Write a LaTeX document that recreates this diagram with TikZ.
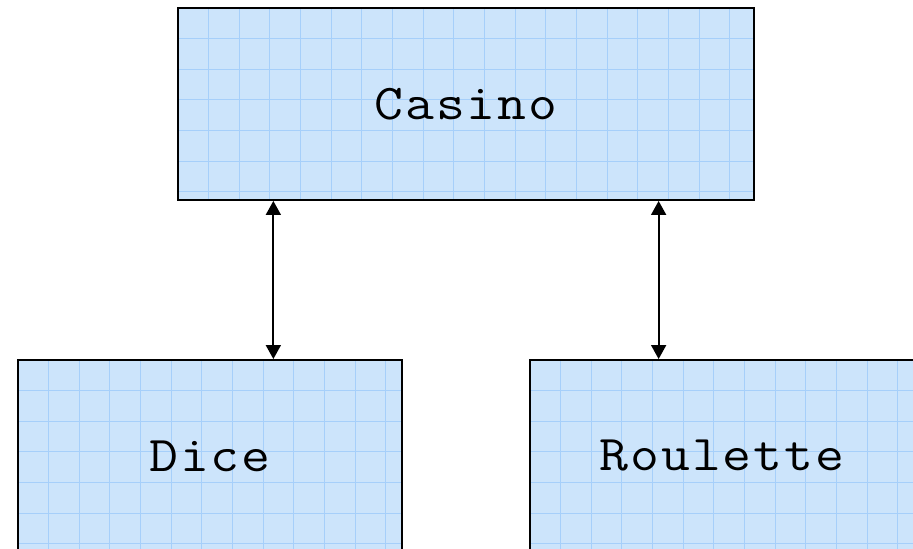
\documentclass[tikz,border=0pt]{standalone}
\usepackage{fontspec}
\usetikzlibrary{arrows.meta,calc}
\definecolor{boxfill}{RGB}{204,228,251}
\definecolor{boxgrid}{RGB}{166,207,250}
\newfontfamily\boxfont[FakeStretch=1.12,LetterSpace=4]{Latin Modern Mono}
\tikzset{
  gamebox/.style={draw=black, line width=1.1pt, fill=boxfill, minimum height=3.84cm, inner sep=0pt,
    font=\boxfont\fontsize{28.5}{34}\selectfont,
    path picture={
      \foreach \k in {1,...,30}
        \draw[boxgrid, line width=0.6pt] ($(path picture bounding box.north west)+(\k*0.613,0)$) -- ++(0,-4);
      \foreach \k in {1,...,6}
        \draw[boxgrid, line width=0.6pt] ($(path picture bounding box.north west)+(0,-\k*0.613)$) -- ++(12,0);
    }},
  link/.style={{Triangle[length=0.28cm,width=0.3cm]}-{Triangle[length=0.28cm,width=0.3cm]}, line width=1pt}
}
\begin{document}
\begin{tikzpicture}
            \useasboundingbox (0,0) rectangle (18.26,-10.98);
            \clip (0,0) rectangle (18.26,-10.98);
            \node[gamebox, minimum width=11.52cm] (casino) at (9.32,-2.08) {Casino};
            \node[gamebox, minimum width=7.68cm] (dice) at (4.2,-9.12) {Dice};
            \node[gamebox, minimum width=7.68cm] (roulette) at (14.44,-9.12) {Roulette};
            \coordinate (c1) at ($(casino.south west)!1/6!(casino.south east)$);
            \coordinate (c2) at ($(casino.south west)!5/6!(casino.south east)$);
            \draw[link] (c1) -- (c1 |- dice.north);
            \draw[link] (c2) -- (c2 |- roulette.north);
\end{tikzpicture}
\end{document}
